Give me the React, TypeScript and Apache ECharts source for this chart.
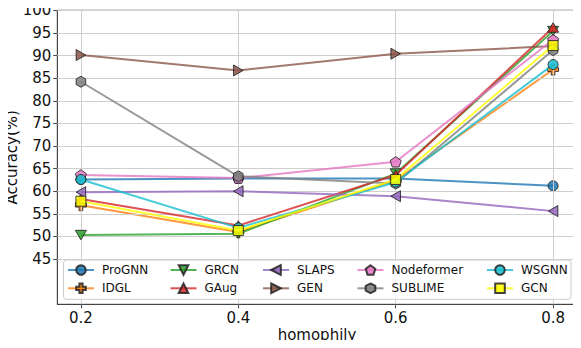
import React, { useEffect, useRef } from "react";
import * as echarts from "echarts";

const X_VALUES = [0.2, 0.4, 0.6, 0.8];
const X_TICKS = [0.2, 0.4, 0.6, 0.8];
const Y_TICKS = [45, 50, 55, 60, 65, 70, 75, 80, 85, 90, 95, 100];

const PROGNN = [62.6, 62.8, 62.8, 61.2];
const IDGL = [56.9, 51.0, 62.4, 86.9];
const GRCN = [50.3, 50.6, 63.9, 95.4];
const GAUG = [58.3, 52.4, 63.6, 96.2];
const SLAPS = [59.8, 60.0, 58.9, 55.6];
const GEN = [90.1, 86.7, 90.4, 92.1];
const NODEFORMER = [63.6, 62.9, 66.5, 93.5];
const SUBLIME = [84.2, 63.3, 61.7, 91.2];
const WSGNN = [62.6, 51.9, 62.0, 88.0];
const GCN = [57.8, 51.3, 62.6, 92.2];

const NAMES = ["ProGNN", "IDGL", "GRCN", "GAug", "SLAPS", "GEN", "Nodeformer", "SUBLIME", "WSGNN", "GCN"];
const VALUES = [PROGNN, IDGL, GRCN, GAUG, SLAPS, GEN, NODEFORMER, SUBLIME, WSGNN, GCN];
const COLORS = ["#1f77b4", "#ff7f0e", "#2ca02c", "#d62728", "#9467bd", "#8c564b", "#e377c2", "#7f7f7f", "#17becf", "#ffff00"];

const SYM_DOWN = "path://M0,0L2,0L1,1.732Z";
const SYM_UP = "path://M1,0L2,1.732L0,1.732Z";
const SYM_LEFT = "path://M0,1L1.732,0L1.732,2Z";
const SYM_RIGHT = "path://M0,0L1.732,1L0,2Z";
const SYM_PLUS = "path://M1,0H2V1H3V2H2V3H1V2H0V1H1Z";
const SYM_PENT = "path://M1,0L1.951,0.691L1.588,1.809L0.412,1.809L0.049,0.691Z";
const SYM_HEX = "path://M1,0L1.866,0.5L1.866,1.5L1,2L0.134,1.5L0.134,0.5Z";
const SYMBOLS = ["circle", SYM_PLUS, SYM_DOWN, SYM_UP, SYM_LEFT, SYM_RIGHT, SYM_PENT, SYM_HEX, "circle", "rect"];
const SIZES = [10, 11, 11, 11, 11, 11, 11, 11, 10, 10];

const FONT = "DejaVu Sans";

export default function App() {
  const ref = useRef<HTMLDivElement>(null);
  useEffect(() => {
    if (!ref.current) return;
    const chart = echarts.init(ref.current, null, { renderer: "svg" });
    const series: any[] = NAMES.map((name, i) => ({
      name,
      type: "line",
      z: 3 + i,
      data: X_VALUES.map((x, j) => [x, VALUES[i][j]]),
      symbol: SYMBOLS[i],
      symbolSize: SIZES[i],
      symbolKeepAspect: true,
      showAllSymbol: true,
      lineStyle: { color: COLORS[i], width: 2, opacity: 0.8 },
      itemStyle: { color: COLORS[i], borderColor: "#222", borderWidth: 1, opacity: 0.85 },
      emphasis: { disabled: true },
    }));
    series.unshift({
      type: "line",
      data: [],
      z: 1,
      silent: true,
      markLine: {
        silent: true,
        symbol: ["none", "none"],
        label: { show: false },
        animation: false,
        lineStyle: { color: "#cfcfcf", type: "solid", width: 1 },
        emphasis: { disabled: true },
        data: [...X_TICKS.map((v) => ({ xAxis: v })), ...Y_TICKS.map((v) => ({ yAxis: v }))],
      },
    });
    const colX = [67, 169.5, 262, 356.5, 486];
    const legends = colX.map((left, c) => ({
      orient: "vertical",
      left,
      top: 263,
      padding: 0,
      itemGap: 4.3,
      itemWidth: 26,
      itemHeight: 12,
      z: 200,
      selectedMode: false,
      data: [NAMES[c * 2], NAMES[c * 2 + 1]],
      textStyle: { fontFamily: FONT, fontSize: 12, color: "#111", lineHeight: 14, padding: [0, 0, 0, 3] },
    }));
    chart.setOption({
      animation: false,
      backgroundColor: "#fff",
      grid: {
        left: 57.3,
        top: 10.3,
        right: 4.3,
        bottom: 43.7,
        show: true,
        borderColor: "#444",
        borderWidth: 1,
        containLabel: false,
        outerBoundsMode: "none",
      },
      xAxis: {
        type: "value",
        min: 0.17,
        max: 0.83,
        name: "homophily",
        nameLocation: "middle",
        nameGap: 23,
        nameMoveOverlap: false,
        nameTextStyle: { fontFamily: FONT, fontSize: 15, color: "#111" },
        axisLine: { show: true, lineStyle: { color: "#444" } },
        axisTick: { show: true, length: 4, customValues: X_TICKS, lineStyle: { color: "#444" } },
        axisLabel: {
          customValues: X_TICKS,
          margin: 6,
          fontFamily: FONT,
          fontSize: 15,
          color: "#111",
          formatter: (v: number) => v.toFixed(1),
        },
        splitLine: { show: false },
      },
      yAxis: {
        type: "value",
        min: 35,
        max: 100,
        interval: 5,
        name: "Accuracy(%)",
        nameLocation: "middle",
        nameGap: 38,
        nameMoveOverlap: false,
        nameTextStyle: { fontFamily: FONT, fontSize: 15, color: "#111" },
        axisLine: { show: true, lineStyle: { color: "#444" } },
        axisTick: { show: true, length: 4, customValues: Y_TICKS, lineStyle: { color: "#444" } },
        axisLabel: {
          customValues: Y_TICKS,
          margin: 6,
          fontFamily: FONT,
          fontSize: 15,
          color: "#111",
        },
        splitLine: { show: false },
      },
      legend: legends,
      graphic: [
        {
          type: "rect",
          z: 100,
          silent: true,
          shape: { x: 63.5, y: 260, width: 507.5, height: 39.3, r: 3 },
          style: { fill: "rgba(255,255,255,0.85)", stroke: "#cccccc", lineWidth: 1 },
        },
      ],
      series,
    });
    return () => chart.dispose();
  }, []);
  return <div ref={ref} style={{ width: 581, height: 348, margin: -8 }} />;
}
